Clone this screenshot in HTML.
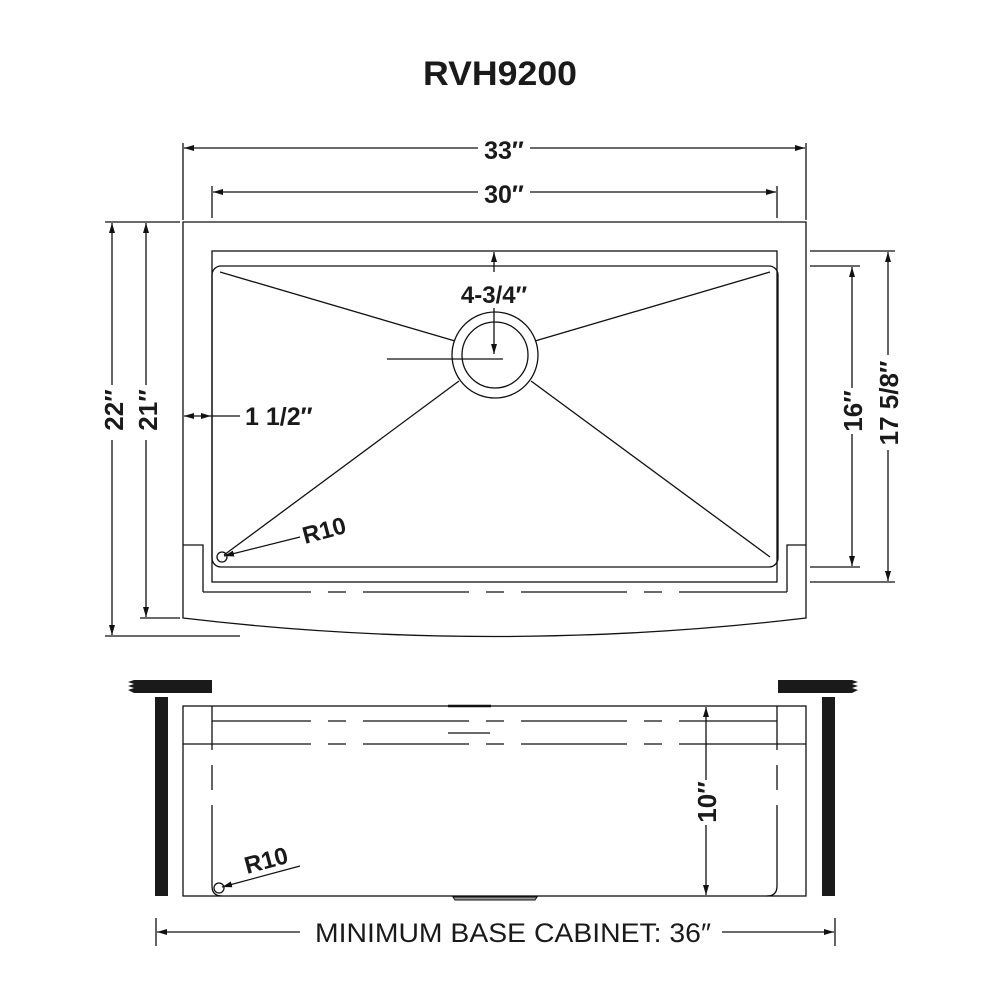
<!DOCTYPE html>
<html><head><meta charset="utf-8"><style>
html,body{margin:0;padding:0;background:#fff;}
svg{display:block;}
text{font-family:"Liberation Sans",sans-serif;fill:#1a1a1a;}
.b{font-weight:bold;}
</style></head><body>
<svg width="1000" height="1000" viewBox="0 0 1000 1000" xmlns="http://www.w3.org/2000/svg">
<defs>
<marker id="a" viewBox="0 0 10 6" refX="10" refY="3" markerWidth="10" markerHeight="6" orient="auto-start-reverse" markerUnits="userSpaceOnUse">
<path d="M0,0 L10,3 L0,6 z" fill="#111"/></marker>
</defs>
<text x="500" y="85" text-anchor="middle" class="b" font-size="34" textLength="154" lengthAdjust="spacingAndGlyphs">RVH9200</text>
<g stroke="#111" stroke-width="1.3" fill="none">
<line x1="183" y1="143" x2="183" y2="220"/>
<line x1="806" y1="143" x2="806" y2="220"/>
<line x1="184" y1="148" x2="478" y2="148" marker-start="url(#a)"/>
<line x1="530" y1="148" x2="805" y2="148" marker-end="url(#a)"/>
<line x1="212" y1="186" x2="212" y2="218"/>
<line x1="777" y1="186" x2="777" y2="218"/>
<line x1="213" y1="192" x2="478" y2="192" marker-start="url(#a)"/>
<line x1="530" y1="192" x2="776" y2="192" marker-end="url(#a)"/>
<path d="M183,222 H806 V618 Q494,655 183,618 Z"/>
<path d="M183,545 H203 V592"/>
<path d="M806,545 H787 V592"/>
<path d="M203,592 H311 M328,592 H346 M363,592 H469 M486,592 H504 M521,592 H627 M644,592 H662 M679,592 H787"/>
<rect x="212" y="251" width="565" height="331"/>
<rect x="212" y="266" width="566" height="301" rx="9"/>
<line x1="220" y1="272" x2="455" y2="341"/>
<line x1="770" y1="272" x2="535" y2="341"/>
<line x1="224" y1="555" x2="459" y2="381"/>
<line x1="770" y1="557" x2="531" y2="381"/>
<circle cx="495" cy="355" r="43"/>
<circle cx="495" cy="355" r="33"/>
<line x1="387" y1="359" x2="503" y2="359"/>
<line x1="494" y1="252" x2="494" y2="272" marker-start="url(#a)"/>
<line x1="494" y1="308" x2="494" y2="354" marker-end="url(#a)"/>
<line x1="105" y1="222" x2="180" y2="222"/>
<line x1="105" y1="636" x2="240" y2="636"/>
<line x1="140" y1="618" x2="180" y2="618"/>
<line x1="112" y1="223" x2="112" y2="385" marker-start="url(#a)"/>
<line x1="112" y1="440" x2="112" y2="635" marker-end="url(#a)"/>
<line x1="146" y1="223" x2="146" y2="385" marker-start="url(#a)"/>
<line x1="146" y1="440" x2="146" y2="617" marker-end="url(#a)"/>
<line x1="184" y1="416" x2="211" y2="416" marker-start="url(#a)" marker-end="url(#a)"/>
<line x1="211" y1="416" x2="240" y2="416"/>
<circle cx="222" cy="557" r="5"/>
<line x1="300" y1="537" x2="224" y2="556" marker-end="url(#a)"/>
<line x1="810" y1="251" x2="895" y2="251"/>
<line x1="810" y1="582" x2="895" y2="582"/>
<line x1="810" y1="266" x2="860" y2="266"/>
<line x1="810" y1="567" x2="860" y2="567"/>
<line x1="852" y1="267" x2="852" y2="388" marker-start="url(#a)"/>
<line x1="852" y1="434" x2="852" y2="566" marker-end="url(#a)"/>
<line x1="888" y1="252" x2="888" y2="355" marker-start="url(#a)"/>
<line x1="888" y1="450" x2="888" y2="581" marker-end="url(#a)"/>
<rect x="183" y="706" width="623" height="190"/>
<line x1="183" y1="744" x2="212" y2="744"/>
<line x1="777" y1="744" x2="806" y2="744"/>
<path d="M212,721 H311 M328,721 H346 M363,721 H469 M486,721 H504 M521,721 H627 M644,721 H662 M679,721 H777"/>
<path d="M212,744 H311 M328,744 H346 M363,744 H469 M486,744 H504 M521,744 H627 M644,744 H662 M679,744 H777"/>
<line x1="448" y1="733" x2="490" y2="733"/>
<path d="M212,706 V750 M212,765 V790 M212,805 V886 Q212,896 222,896"/>
<path d="M777,706 V750 M777,765 V790 M777,805 V886 Q777,896 767,896"/>
<line x1="706" y1="707" x2="706" y2="780" marker-start="url(#a)"/>
<line x1="706" y1="825" x2="706" y2="895" marker-end="url(#a)"/>
<circle cx="219" cy="888" r="5"/>
<line x1="300" y1="866" x2="222" y2="887" marker-end="url(#a)"/>
<line x1="156" y1="918" x2="156" y2="946"/>
<line x1="835" y1="918" x2="835" y2="946"/>
<line x1="157" y1="932" x2="300" y2="932" marker-start="url(#a)"/>
<line x1="722" y1="932" x2="834" y2="932" marker-end="url(#a)"/>
</g>
<line x1="448" y1="706" x2="491" y2="706" stroke="#111" stroke-width="2.5"/>
<path d="M453,897 H537 L535,900 H455 Z" fill="#999" stroke="#111" stroke-width="1"/>
<rect x="155" y="697" width="13" height="199" fill="#1a1a1a"/>
<rect x="134" y="680" width="78" height="13" fill="#1a1a1a"/>
<path d="M134,680 L128,682 L134,684 L128,686 L134,688 L128,690 L134,693 Z" fill="#1a1a1a"/>
<rect x="822" y="697" width="13" height="199" fill="#1a1a1a"/>
<rect x="778" y="680" width="74" height="13" fill="#1a1a1a"/>
<path d="M852,680 L858,682 L852,684 L858,686 L852,688 L858,690 L852,693 Z" fill="#1a1a1a"/>
<text x="504" y="159" text-anchor="middle" class="b" font-size="25">33″</text>
<text x="504" y="203" text-anchor="middle" class="b" font-size="25">30″</text>
<text x="494" y="303" text-anchor="middle" class="b" font-size="24">4-3/4″</text>
<text x="245" y="425" class="b" font-size="25">1 1/2″</text>
<text transform="translate(305,544) rotate(-15)" class="b" font-size="24">R10</text>
<text transform="translate(123,410) rotate(-90)" text-anchor="middle" class="b" font-size="26">22″</text>
<text transform="translate(157,410) rotate(-90)" text-anchor="middle" class="b" font-size="26">21″</text>
<text transform="translate(862,411) rotate(-90)" text-anchor="middle" class="b" font-size="26">16″</text>
<text transform="translate(898,403) rotate(-90)" text-anchor="middle" class="b" font-size="26">17 5/8″</text>
<text transform="translate(716,802) rotate(-90)" text-anchor="middle" class="b" font-size="26">10″</text>
<text transform="translate(247,874) rotate(-15)" class="b" font-size="24">R10</text>
<text x="513" y="942" text-anchor="middle" font-size="27" textLength="396" lengthAdjust="spacingAndGlyphs">MINIMUM BASE CABINET: 36″</text>
</svg>
</body></html>
